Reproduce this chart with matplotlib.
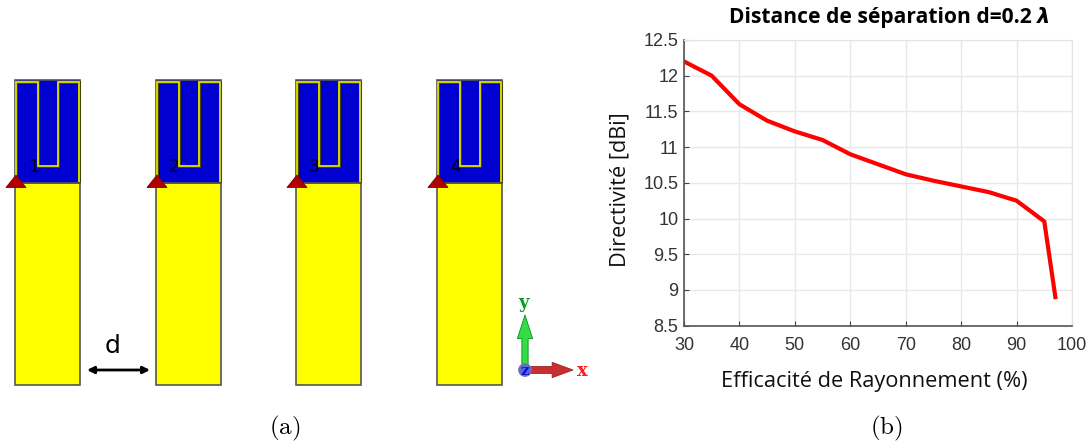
import matplotlib
matplotlib.use('Agg')
import matplotlib.pyplot as plt
from matplotlib.patches import Rectangle, Polygon, Circle, FancyArrowPatch

plt.rcParams.update({'font.family': 'Liberation Sans'})
plt.rcParams.update({'mathtext.fontset': 'cm'})

# curve
efficacite = [30, 35, 40, 45, 50, 55, 60, 65, 70, 75, 80, 85, 90, 95, 97]
directivite = [12.2, 12.0, 11.6, 11.37, 11.22, 11.1, 10.9, 10.76, 10.62, 10.53,
               10.45, 10.37, 10.25, 9.96, 8.9]
xticks = [30, 40, 50, 60, 70, 80, 90, 100]
yticks = [8.5, 9, 9.5, 10, 10.5, 11, 11.5, 12, 12.5]
ytick_labels = ['8.5', '9', '9.5', '10', '10.5', '11', '11.5', '12', '12.5']
ports = ['1', '2', '3', '4']
port_left = [15, 156, 296, 437]

W, H = 1090, 446
fig = plt.figure(figsize=(W/100, H/100), dpi=100)

#%% panel (a), pixel coordinates of the picture
bg = fig.add_axes([0, 0, 1, 1])
bg.set_xlim(0, W)
bg.set_ylim(H, 0)
bg.axis('off')

for left, port in zip(port_left, ports):
    bg.add_patch(Rectangle((left, 183), 65, 202, fc='#ffff00', ec='#555555', lw=1.2, zorder=2))
    bg.add_patch(Rectangle((left, 80), 65, 103, fc='#0000d0', ec='#555555', lw=1.2, zorder=2))
    # yellow track of the patch with its dark edge
    track = [(left+1, 182), (left+1, 81.5), (left+23, 81.5), (left+23, 166), (left+42.5, 166),
             (left+42.5, 81.5), (left+64, 81.5), (left+64, 182)]
    bg.plot(*zip(*track), color='#444400', lw=2.2, zorder=3, solid_joinstyle='miter', solid_capstyle='butt')
    bg.plot(*zip(*track), color='#e0e000', lw=1.3, zorder=4, solid_joinstyle='miter', solid_capstyle='butt')
    bg.add_patch(Polygon([(left+1, 175), (left-9, 187.5), (left+11, 187.5)], fc='#b00000',
                         ec='#800000', lw=0.6, zorder=5))
    bg.text(left+13, 167, port, fontsize=12, family='DejaVu Sans', color='#000022',
            ha='left', va='center', zorder=6)

# arrow for the distance d
bg.add_patch(FancyArrowPatch((87, 370), (150, 370), arrowstyle='<|-|>', mutation_scale=10,
                             color='black', lw=2, shrinkA=0, shrinkB=0, zorder=3))
bg.text(113, 346, 'd', fontsize=18, family='Liberation Sans Narrow', ha='center', va='center')

# axis triad
bg.add_patch(FancyArrowPatch((525, 368), (525, 315), arrowstyle='simple,head_width=11,head_length=17,tail_width=4.5',
                             fc='#33dd44', ec='#118822', lw=0.6, shrinkA=0, shrinkB=0, zorder=3))
bg.add_patch(FancyArrowPatch((525, 370), (573, 370), arrowstyle='simple,head_width=11,head_length=15,tail_width=5',
                             fc='#c83030', ec='#a02020', lw=0.6, shrinkA=0, shrinkB=0, zorder=3))
bg.add_patch(Circle((525, 370), 6.5, fc='#6070c0', ec='#7080b0', lw=0.5, zorder=4))
bg.text(525, 371, 'z', fontsize=11, family='DejaVu Serif', weight='bold', color='#1010ee',
        ha='center', va='center', zorder=5)
bg.text(524, 303, 'y', fontsize=13, family='DejaVu Serif', weight='bold', color='#119922',
        ha='center', va='center')
bg.text(582, 371, 'x', fontsize=13, family='DejaVu Serif', weight='bold', color='#ff2020',
        ha='center', va='center')

bg.text(285, 428, r'$\mathrm{(a)}$', fontsize=18, ha='center', va='center')
bg.text(886, 428, r'$\mathrm{(b)}$', fontsize=18, ha='center', va='center')

#%% panel (b)
ax = fig.add_axes([684/W, 1-325.7/H, (1072-684)/W, (325.7-40)/H])
ax.plot(efficacite, directivite, color='#ff0000', lw=3, solid_joinstyle='miter')
ax.set_xlim([30, 100])
ax.set_ylim([8.5, 12.5])
ax.set_xticks(xticks)
ax.set_yticks(yticks)
ax.set_yticklabels(ytick_labels)
ax.grid(True, color='#e8e8e8', lw=1)
ax.set_axisbelow(True)
ax.tick_params(direction='in', length=3.5, width=0.8, color='#444444', labelcolor='#333333',
               labelsize=13, pad=4)
ax.tick_params(axis='x', pad=8)
for s in ['top', 'right']:
    ax.spines[s].set_color('#e4e4e4')
for s in ['left', 'bottom']:
    ax.spines[s].set_color('#555555')
    ax.spines[s].set_linewidth(1.2)

bg.text(874, 382, 'Efficacité de Rayonnement (%)', fontsize=15.7, family='Open Sans',
        ha='center', va='center', color='#111111')
bg.text(620, 189.5, 'Directivité [dBi]', fontsize=15.6, family='Open Sans', rotation=90,
        ha='center', va='center', color='#111111')
bg.text(729, 17, 'Distance de séparation d=0.2', fontsize=15.1, family='Open Sans', weight='bold',
        ha='left', va='center')
bg.text(1037, 17, 'λ', fontsize=15, family='DejaVu Sans', weight='bold', style='italic',
        ha='left', va='center')

plt.savefig('out.png', dpi=100)
